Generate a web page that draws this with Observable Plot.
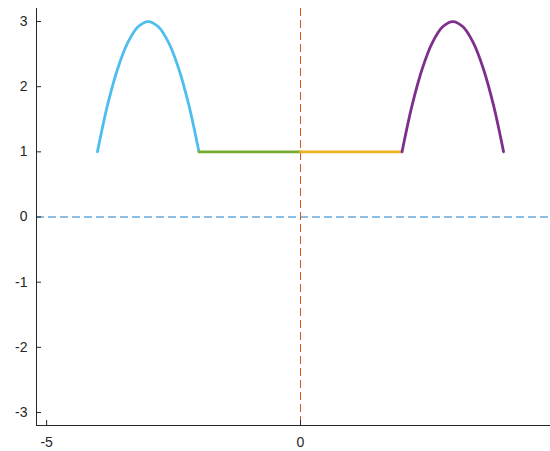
<!DOCTYPE html>
<html>
<head>
<meta charset="utf-8">
<script src="https://cdn.jsdelivr.net/npm/d3@7"></script>
<script src="https://cdn.jsdelivr.net/npm/@observablehq/plot@0.6"></script>
<style>
  html, body { margin: 0; padding: 0; background: #fff; overflow: hidden; width: 550px; height: 451px; }
  #chart { width: 564px; }
  #chart svg { display: block; max-width: none !important; }
</style>
</head>
<body>
<div id="chart"></div>
<script>
// Segment 1 (blue arch)
const seg1X = [-4, -3.8, -3.6, -3.4, -3.2, -3, -2.8, -2.6, -2.4, -2.2, -2];
const seg1Y = [1, 1.72, 2.28, 2.68, 2.92, 3, 2.92, 2.68, 2.28, 1.72, 1];
// Segment 2 (green flat)
const seg2X = [-2, 0];
const seg2Y = [1, 1];
// Segment 3 (yellow flat)
const seg3X = [0, 2];
const seg3Y = [1, 1];
// Segment 4 (purple arch)
const seg4X = [2, 2.2, 2.4, 2.6, 2.8, 3, 3.2, 3.4, 3.6, 3.8, 4];
const seg4Y = [1, 1.72, 2.28, 2.68, 2.92, 3, 2.92, 2.68, 2.28, 1.72, 1];

const xTicks = [-5, 0, 5];
const yTicks = [-3, -2, -1, 0, 1, 2, 3];

const toPts = (xs, ys) => xs.map((x, i) => ({x, y: ys[i]}));

const lineOpts = {x: "x", y: "y", strokeWidth: 2.8, curve: "catmull-rom"};

const chart = Plot.plot({
  width: 564,
  height: 451,
  marginLeft: 36,
  marginRight: 0,
  marginTop: 8,
  marginBottom: 26,
  style: {fontFamily: "Liberation Sans, Arial, sans-serif", fontSize: "14px", color: "#262626", background: "#fff", maxWidth: "none"},
  x: {domain: [-5.2, 5.2]},
  y: {domain: [-3.2, 3.2]},
  marks: [
    Plot.ruleY([0], {stroke: "#0072BD", strokeWidth: 1, strokeDasharray: "8,4", strokeOpacity: 0.9}),
    Plot.ruleX([0], {stroke: "#D95319", strokeWidth: 1, strokeDasharray: "8,4"}),
    Plot.line(toPts(seg1X, seg1Y), {...lineOpts, stroke: "#4DBEEE"}),
    Plot.line(toPts(seg2X, seg2Y), {...lineOpts, stroke: "#77AC30"}),
    Plot.line(toPts(seg3X, seg3Y), {...lineOpts, stroke: "#EDB120"}),
    Plot.line(toPts(seg4X, seg4Y), {...lineOpts, stroke: "#7E2F8E"}),
    Plot.axisX({ticks: xTicks, tickSize: -5, tickPadding: 17, tickFormat: d => String(d), stroke: "#262626", label: null, fontSize: 14}),
    Plot.axisY({ticks: yTicks, tickSize: -5, tickPadding: 14, tickFormat: d => String(d), stroke: "#262626", label: null, fontSize: 14}),
    Plot.ruleX([-5.2], {stroke: "#262626", strokeWidth: 1}),
    Plot.ruleY([-3.2], {stroke: "#262626", strokeWidth: 1})
  ]
});
document.getElementById("chart").appendChild(chart);
</script>
</body>
</html>
